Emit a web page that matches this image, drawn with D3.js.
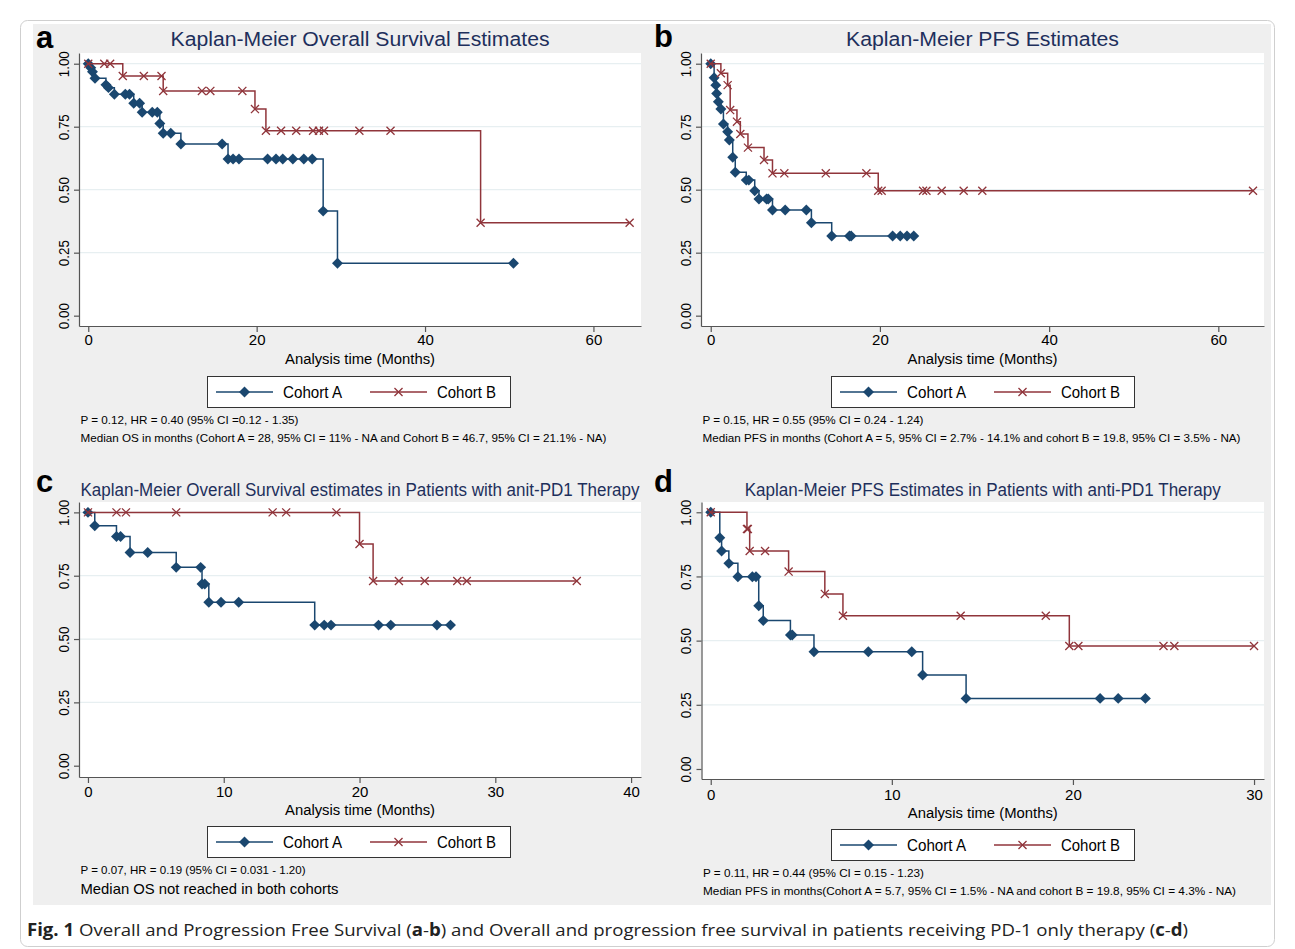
<!DOCTYPE html>
<html>
<head>
<meta charset="utf-8">
<script src="https://cdn.jsdelivr.net/npm/d3@7"></script>
<style>
  body { margin: 0; background: #fff; }
  svg { display: block; }
  text { font-family: "Liberation Sans", Arial, Helvetica, sans-serif; }
</style>
</head>
<body>
<svg id="chart" width="1295" height="949"></svg>
<script>
// ---- data ----
// a: overall survival
const osA_time = [0, 0.3, 0.5, 0.8, 2.1, 2.4, 3.1, 4.4, 4.9, 5.4, 6.1, 6.4, 7.6, 8.2, 8.5, 8.9, 9.8, 11.0, 15.9, 16.6, 17.2, 17.9, 21.3, 22.3, 23.1, 24.3, 25.6, 26.6, 27.9, 29.6, 50.5];
const osA_surv = [1, 0.984, 0.968, 0.942, 0.916, 0.905, 0.879, 0.879, 0.879, 0.843, 0.843, 0.807, 0.807, 0.807, 0.763, 0.724, 0.724, 0.681, 0.681, 0.622, 0.622, 0.622, 0.622, 0.622, 0.622, 0.622, 0.622, 0.622, 0.415, 0.208, 0.208];
const osB_time = [0, 1.9, 2.6, 4.1, 6.6, 8.7, 8.9, 13.5, 14.5, 18.3, 19.8, 21.1, 22.9, 24.7, 26.7, 27.4, 28.0, 32.2, 35.9, 46.6, 64.3];
const osB_surv = [1, 1, 1, 0.951, 0.951, 0.951, 0.892, 0.892, 0.892, 0.892, 0.820, 0.734, 0.734, 0.734, 0.734, 0.734, 0.734, 0.734, 0.734, 0.369, 0.369];

// b: progression free survival
const pfsA_time = [0, 0.4, 0.6, 0.7, 0.9, 1.2, 1.5, 2.0, 2.2, 2.6, 2.9, 4.2, 4.5, 5.2, 5.7, 6.6, 6.8, 7.3, 8.8, 11.3, 11.9, 14.3, 16.4, 16.6, 21.5, 22.4, 23.2, 24.0];
const pfsA_surv = [1, 0.944, 0.915, 0.882, 0.849, 0.820, 0.761, 0.730, 0.697, 0.629, 0.569, 0.538, 0.538, 0.496, 0.463, 0.463, 0.463, 0.419, 0.419, 0.419, 0.369, 0.316, 0.316, 0.316, 0.316, 0.316, 0.316, 0.316];
const pfsB_time = [0, 1.2, 2.0, 2.3, 3.1, 3.5, 4.4, 6.3, 7.3, 8.7, 13.6, 18.4, 19.8, 20.2, 25.1, 25.5, 27.3, 29.9, 32.1, 64.1];
const pfsB_surv = [1, 0.962, 0.915, 0.816, 0.770, 0.721, 0.667, 0.618, 0.565, 0.565, 0.565, 0.565, 0.496, 0.496, 0.496, 0.496, 0.496, 0.496, 0.496, 0.496];

// c: overall survival, anti-PD1 only
const pdOsA_time = [0, 0.5, 2.1, 2.4, 3.1, 4.4, 6.5, 8.3, 8.4, 8.6, 8.9, 9.8, 11.1, 16.7, 17.4, 17.9, 21.4, 22.3, 25.7, 26.7];
const pdOsA_surv = [1, 0.947, 0.905, 0.905, 0.842, 0.842, 0.783, 0.783, 0.717, 0.717, 0.645, 0.645, 0.645, 0.555, 0.555, 0.555, 0.555, 0.555, 0.555, 0.555];
const pdOsB_time = [0, 2.1, 2.8, 6.5, 13.6, 14.6, 18.3, 20.0, 21.0, 22.9, 24.8, 27.2, 27.9, 36.0];
const pdOsB_surv = [1, 1, 1, 1, 1, 1, 1, 0.875, 0.729, 0.729, 0.729, 0.729, 0.729, 0.729];

// d: progression free survival, anti-PD1 only
const pdPfsA_time = [0, 0.5, 0.6, 1.0, 1.5, 2.3, 2.5, 2.65, 2.9, 4.4, 4.5, 5.7, 8.7, 11.1, 11.7, 14.1, 21.5, 22.5, 24.0];
const pdPfsA_surv = [1, 0.901, 0.849, 0.801, 0.749, 0.749, 0.749, 0.636, 0.578, 0.522, 0.522, 0.457, 0.457, 0.457, 0.366, 0.275, 0.275, 0.275, 0.275];
const pdPfsB_time = [0, 2.0, 2.05, 2.15, 3.0, 4.3, 6.3, 7.3, 13.8, 18.5, 19.8, 20.3, 25.0, 25.6, 30.0];
const pdPfsB_surv = [1, 0.935, 0.935, 0.849, 0.849, 0.769, 0.682, 0.597, 0.597, 0.597, 0.479, 0.479, 0.479, 0.479, 0.479];

// ticks and labels
const yTicks = [0, 0.25, 0.5, 0.75, 1];
const xTicksLong = [0, 20, 40, 60];
const xTicksPdOs = [0, 10, 20, 30, 40];
const xTicksPdPfs = [0, 10, 20, 30];
const cohorts = ["Cohort A", "Cohort B"];
const letters = ["a", "b", "c", "d"];
const titles = [
  "Kaplan-Meier Overall Survival Estimates",
  "Kaplan-Meier PFS Estimates",
  "Kaplan-Meier Overall Survival estimates in Patients with anit-PD1 Therapy",
  "Kaplan-Meier PFS Estimates in Patients with anti-PD1 Therapy"
];
const xTitle = "Analysis time (Months)";
const statLines = [
  "P = 0.12, HR = 0.40 (95% CI =0.12 - 1.35)",
  "P = 0.15, HR = 0.55 (95% CI = 0.24 - 1.24)",
  "P = 0.07, HR = 0.19 (95% CI = 0.031 - 1.20)",
  "P = 0.11, HR = 0.44 (95% CI = 0.15 - 1.23)"
];
const medianLines = [
  "Median OS in months (Cohort A = 28, 95% CI = 11% - NA and Cohort B = 46.7, 95% CI = 21.1% - NA)",
  "Median PFS in months (Cohort A = 5, 95% CI = 2.7% - 14.1% and cohort B = 19.8, 95% CI = 3.5% - NA)",
  "Median OS not reached in both cohorts",
  "Median PFS in months(Cohort A = 5.7, 95% CI = 1.5% - NA and cohort B = 19.8, 95% CI = 4.3% - NA)"
];

// ---- layout ----
const blue = "#1a476f", red = "#90353b";
const svg = d3.select("#chart");

// frame + grey graph region
svg.append("rect").attr("x", 20.5).attr("y", 20.5).attr("width", 1254).attr("height", 926)
  .attr("rx", 7).attr("fill", "#fff").attr("stroke", "#cfcfcf");
svg.append("rect").attr("x", 33).attr("y", 24).attr("width", 1238).attr("height", 881).attr("fill", "#efefef");

const panels = [
  { left: 79, right: 641, top: 53, bottom: 326, xDom: [-1.1, 65.65], yDom: [-0.041, 1.0425], xTicks: xTicksLong,
    A: [osA_time, osA_surv], B: [osB_time, osB_surv],
    titleY: 46, titleW: 379, titleSize: 20, letterX: 36, letterY: 48, tickY: 345, xTitleY: 364,
    legX: 207, legY: 376, statY: 424, medY: 442, medSize: 11.5, statW: 218, medW: 526 },
  { left: 701, right: 1264, top: 53, bottom: 326, xDom: [-1.15, 65.4], yDom: [-0.041, 1.0425], xTicks: xTicksLong,
    A: [pfsA_time, pfsA_surv], B: [pfsB_time, pfsB_surv],
    titleY: 46, titleW: 273, titleSize: 20, letterX: 654, letterY: 47, tickY: 345, xTitleY: 364,
    legX: 831, legY: 376, statY: 424, medY: 442, medSize: 11.5, statW: 221, medW: 538 },
  { left: 79, right: 641, top: 502, bottom: 777, xDom: [-0.66, 40.73], yDom: [-0.0446, 1.041], xTicks: xTicksPdOs,
    A: [pdOsA_time, pdOsA_surv], B: [pdOsB_time, pdOsB_surv],
    titleY: 496, titleW: 559, titleSize: 17.5, letterX: 36, letterY: 492, tickY: 797, xTitleY: 815,
    legX: 207, legY: 826, statY: 874, medY: 894, medSize: 15, statW: 225, medW: 258 },
  { left: 701.5, right: 1264, top: 502, bottom: 779, xDom: [-0.51, 30.55], yDom: [-0.039, 1.040], xTicks: xTicksPdPfs,
    A: [pdPfsA_time, pdPfsA_surv], B: [pdPfsB_time, pdPfsB_surv],
    titleY: 496, titleW: 476, titleSize: 17.5, letterX: 654, letterY: 492, tickY: 800, xTitleY: 818,
    legX: 831, legY: 829, statY: 877, medY: 895, medSize: 11.5, statW: 221, medW: 533 }
];

function label(g, s, x, y, size, opts = {}) {
  const t = g.append("text").attr("x", x).attr("y", y)
    .style("font-size", size + "px")
    .attr("fill", opts.color || "#000")
    .text(s);
  if (opts.anchor) t.attr("text-anchor", opts.anchor);
  if (opts.weight) t.style("font-weight", opts.weight);
  if (opts.width) t.attr("textLength", opts.width).attr("lengthAdjust", "spacingAndGlyphs");
  return t;
}

const diamond = d3.symbol(d3.symbolSquare, 60);
const cross = d3.symbol(d3.symbolTimes || d3.symbolCross, 44);

function drawMarker(g, kind, cx, cy) {
  if (kind === "A") {
    g.append("path").attr("d", diamond()).attr("fill", blue)
      .attr("transform", `translate(${cx},${cy}) rotate(45)`);
  } else {
    const p = g.append("path").attr("d", cross()).attr("fill", "none")
      .attr("stroke", red).attr("stroke-width", 1.3);
    p.attr("transform", `translate(${cx},${cy})` + (d3.symbolTimes ? "" : " rotate(45)"));
  }
}

panels.forEach((p, i) => {
  const g = svg.append("g");
  const x = d3.scaleLinear().domain(p.xDom).range([p.left, p.right]);
  const y = d3.scaleLinear().domain(p.yDom).range([p.bottom, p.top]);

  // plot region
  g.append("rect").attr("x", p.left).attr("y", p.top)
    .attr("width", p.right - p.left).attr("height", p.bottom - p.top).attr("fill", "#fff");

  // grid
  g.append("g").selectAll("line").data(yTicks.filter(d => d > 0)).join("line")
    .attr("x1", p.left).attr("x2", p.right)
    .attr("y1", d => y(d)).attr("y2", d => y(d))
    .attr("stroke", "#e7eff1").attr("stroke-width", 1.2);

  // x axis
  const gx = g.append("g").attr("transform", `translate(0,${p.bottom})`)
    .call(d3.axisBottom(x).tickValues(p.xTicks).tickSize(6).tickSizeOuter(0).tickFormat(d3.format("d")));
  gx.select(".domain").attr("stroke", "#555").attr("stroke-width", 1.2);
  gx.selectAll(".tick line").attr("stroke", "#555").attr("stroke-width", 1.2);
  gx.selectAll(".tick text").attr("y", p.tickY - p.bottom).attr("dy", null)
    .style("font-size", "15px").attr("fill", "#000")
    .style("font-family", "'Liberation Sans', Arial, sans-serif");

  // y axis with rotated labels
  const gy = g.append("g").attr("transform", `translate(${p.left},0)`)
    .call(d3.axisLeft(y).tickValues(yTicks).tickSize(5).tickSizeOuter(0).tickFormat(d3.format(".2f")));
  gy.select(".domain").attr("stroke", "#555").attr("stroke-width", 1.2);
  gy.selectAll(".tick line").attr("stroke", "#555").attr("stroke-width", 1.2);
  gy.selectAll(".tick text")
    .attr("x", 0).attr("y", 0).attr("dy", "0.36em")
    .attr("text-anchor", "middle")
    .attr("transform", "translate(-16,0) rotate(-90)")
    .attr("textLength", 26).attr("lengthAdjust", "spacingAndGlyphs")
    .style("font-size", "15.5px").attr("fill", "#000")
    .style("font-family", "'Liberation Sans', Arial, sans-serif");

  // curves: cohort A first, B on top
  const line = d3.line().x(d => x(d[0])).y(d => y(d[1])).curve(d3.curveStepAfter);
  [["A", p.A, blue], ["B", p.B, red]].forEach(([k, [t, s], col]) => {
    const pts = d3.zip(t, s);
    g.append("path").datum(pts).attr("d", line)
      .attr("fill", "none").attr("stroke", col).attr("stroke-width", 1.5);
    const mg = g.append("g");
    pts.forEach(d => drawMarker(mg, k, x(d[0]), y(d[1])));
  });

  // titles and panel letter
  const cx = (p.left + p.right) / 2;
  label(g, titles[i], cx, p.titleY, p.titleSize, { anchor: "middle", width: p.titleW, color: "#1e2f5c" });
  label(g, letters[i], p.letterX, p.letterY, 31, { weight: "bold", color: "#000" });
  label(g, xTitle, cx, p.xTitleY, 15.5, { anchor: "middle", width: 150 });

  // legend
  const lg = g.append("g").attr("transform", `translate(${p.legX},${p.legY})`);
  lg.append("rect").attr("x", 0.5).attr("y", 0.5).attr("width", 303).attr("height", 31)
    .attr("fill", "#fff").attr("stroke", "#333").attr("stroke-width", 1);
  [["A", blue, 9], ["B", red, 163]].forEach(([k, col, ox], j) => {
    lg.append("line").attr("x1", ox).attr("x2", ox + 57).attr("y1", 16).attr("y2", 16)
      .attr("stroke", col).attr("stroke-width", 1.5);
    drawMarker(lg, k, ox + 28.5, 16);
    label(lg, cohorts[j], ox + 67, 21.5, 16, { width: 59 });
  });

  // notes
  label(g, statLines[i], p.left + 1.5, p.statY, 11.5, { width: p.statW });
  label(g, medianLines[i], p.left + 1.5, p.medY, p.medSize, { width: p.medW });
});

// caption
const cap = svg.append("text").attr("x", 27).attr("y", 936)
  .style("font-family", "'Open Sans', 'Noto Sans', sans-serif").style("font-size", "17px")
  .attr("fill", "#222").attr("textLength", 1161).attr("lengthAdjust", "spacingAndGlyphs");
[["Fig. 1", true], [" Overall and Progression Free Survival (", false], ["a", true], ["-", false], ["b", true],
 [") and Overall and progression free survival in patients receiving PD-1 only therapy (", false],
 ["c", true], ["-", false], ["d", true], [")", false]].forEach(([s, b]) => {
  cap.append("tspan").style("font-weight", b ? "bold" : "normal").text(s);
});
</script>
</body>
</html>
